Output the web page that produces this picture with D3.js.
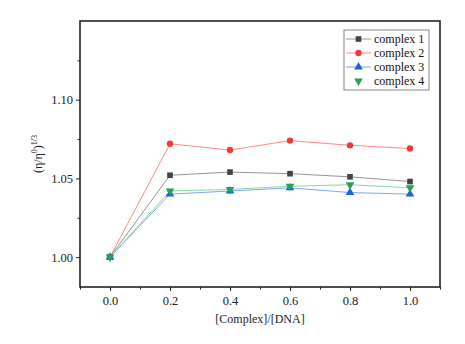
<!DOCTYPE html>
<html lang="en">
<head>
<meta charset="UTF-8">
<title>Viscosity vs [Complex]/[DNA]</title>
<script src="https://d3js.org/d3.v7.min.js"></script>
<style>
html, body { margin: 0; padding: 0; background: white; }
svg text { font-family: "Liberation Serif", "Times New Roman", Times, "DejaVu Serif", serif; }
.axis text { font-size: 12.5px; fill: #222; }
.axis path, .axis line { stroke: #222; }
.legend-text { font-size: 12px; fill: #111; }
</style>
</head>
<body>
<div id="chart"></div>
<script>

// --------------------------------------
// Data
// --------------------------------------

const ratios = [0.0, 0.2, 0.4, 0.6, 0.8, 1.0];
const complex1 = [1.000, 1.052, 1.054, 1.053, 1.051, 1.048];
const complex2 = [1.000, 1.072, 1.068, 1.074, 1.071, 1.069];
const complex3 = [1.000, 1.040, 1.042, 1.044, 1.041, 1.040];
const complex4 = [1.000, 1.042, 1.043, 1.045, 1.046, 1.044];
const seriesNames = ["complex 1", "complex 2", "complex 3", "complex 4"];
const xTicks = [0.0, 0.2, 0.4, 0.6, 0.8, 1.0];
const yTicks = [1.00, 1.05, 1.10];

// --------------------------------------
// Size and margin
// --------------------------------------

let totalWidth = 465, totalHeight = 344;
let margin = {top: 21, right: 25, bottom: 57, left: 80};

let svg = d3.select("#chart").append("svg")
  .attr("width", totalWidth)
  .attr("height", totalHeight);

let x = d3.scaleLinear().domain([-0.1, 1.1]).range([margin.left, totalWidth - margin.right]);
let y = d3.scaleLinear().domain([0.981, 1.15]).range([totalHeight - margin.bottom, margin.top]);

// --------------------------------------
// Axes
// --------------------------------------

let x0 = x.range()[0], x1 = x.range()[1];
let y0 = y.range()[0], y1 = y.range()[1];

// minor ticks
svg.append("g").attr("class", "axis")
  .attr("transform", `translate(0,${y0})`)
  .call(d3.axisBottom(x).tickValues([-0.1, 0.1, 0.3, 0.5, 0.7, 0.9, 1.1]).tickSize(2.5).tickFormat(""))
  .call(g => g.select(".domain").remove());

svg.append("g").attr("class", "axis")
  .attr("transform", `translate(${x0},0)`)
  .call(d3.axisLeft(y).tickValues([1.025, 1.075, 1.125]).tickSize(2.5).tickFormat(""))
  .call(g => g.select(".domain").remove());

// major ticks
svg.append("g").attr("class", "axis")
  .attr("transform", `translate(0,${y0})`)
  .call(d3.axisBottom(x).tickValues(xTicks).tickSize(4).tickPadding(5).tickFormat(d3.format(".1f")))
  .call(g => g.select(".domain").remove());

svg.append("g").attr("class", "axis")
  .attr("transform", `translate(${x0},0)`)
  .call(d3.axisLeft(y).tickValues(yTicks).tickSize(4).tickPadding(3).tickFormat(d3.format(".2f")))
  .call(g => g.select(".domain").remove());

svg.selectAll(".axis").attr("font-family", null);

// frame
svg.append("rect")
  .attr("x", x0).attr("y", y1)
  .attr("width", x1 - x0).attr("height", y0 - y1)
  .attr("fill", "none").attr("stroke", "#222").attr("stroke-width", 1.6);

// axis titles
svg.append("text")
  .attr("x", (x0 + x1) / 2).attr("y", y0 + 36)
  .attr("text-anchor", "middle")
  .style("font-size", "12px").style("fill", "#222")
  .text("[Complex]/[DNA]");

let yl = svg.append("text")
  .attr("transform", `translate(42,${(y0 + y1) / 2}) rotate(-90)`)
  .attr("text-anchor", "middle")
  .style("font-size", "12px").style("fill", "#222");
yl.append("tspan").text("(η/η");
yl.append("tspan").attr("dy", -5).style("font-size", "8px").text("0");
yl.append("tspan").attr("dy", 5).text(")");
yl.append("tspan").attr("dy", -5).style("font-size", "8px").text("1/3");

// --------------------------------------
// Series
// --------------------------------------

let series = [
  {name: seriesNames[0], values: complex1, line: "#8a8a8a", mark: "#444444", sym: d3.symbolSquare, rot: 0},
  {name: seriesNames[1], values: complex2, line: "#ff7a7a", mark: "#f23a3a", sym: d3.symbolCircle, rot: 0},
  {name: seriesNames[2], values: complex3, line: "#6f9fe8", mark: "#1a62d8", sym: d3.symbolTriangle, rot: 0},
  {name: seriesNames[3], values: complex4, line: "#7fd0a0", mark: "#27a05a", sym: d3.symbolTriangle, rot: 180}
];

let line = d3.line().x((d, i) => x(ratios[i])).y(d => y(d));

series.forEach(s => {
  svg.append("path")
    .datum(s.values)
    .attr("d", line)
    .attr("fill", "none")
    .attr("stroke", s.line)
    .attr("stroke-width", 0.9);
});

series.forEach(s => {
  svg.selectAll(null)
    .data(s.values)
    .join("path")
    .attr("d", d3.symbol().type(s.sym).size(32))
    .attr("transform", (d, i) => `translate(${x(ratios[i])},${y(d)}) rotate(${s.rot})`)
    .attr("fill", s.mark);
});

// --------------------------------------
// Legend
// --------------------------------------

let legend = svg.append("g").attr("transform", "translate(344,30)");

legend.append("rect")
  .attr("width", 85).attr("height", 60)
  .attr("fill", "white").attr("stroke", "#666").attr("stroke-width", 0.8);

series.forEach((s, i) => {
  let row = legend.append("g").attr("transform", `translate(0,${9 + i * 14})`);
  if (i < 3) {
    row.append("line")
      .attr("x1", 2).attr("x2", 27)
      .attr("stroke", s.line).attr("stroke-width", 0.9);
  }
  row.append("path")
    .attr("d", d3.symbol().type(s.sym).size(32))
    .attr("transform", `translate(14.5,0) rotate(${s.rot})`)
    .attr("fill", s.mark);
  row.append("text")
    .attr("class", "legend-text")
    .attr("x", 30).attr("dy", "0.35em")
    .text(s.name);
});

</script>
</body>
</html>
